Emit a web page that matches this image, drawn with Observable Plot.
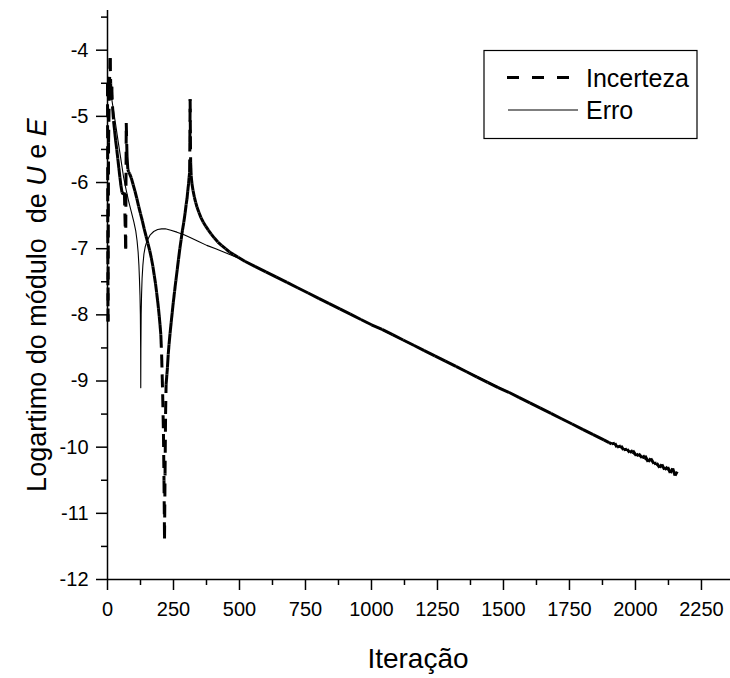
<!DOCTYPE html>
<html><head><meta charset="utf-8">
<script src="https://cdn.jsdelivr.net/npm/d3@7"></script>
<script src="https://cdn.jsdelivr.net/npm/@observablehq/plot@0.6"></script>
<style>body{margin:0;background:#fff} svg{display:block}</style>
</head><body><div id="chart"></div>
<script>
// ---- data ----
const xTicks = [0, 250, 500, 750, 1000, 1250, 1500, 1750, 2000, 2250];
const xMinorTicks = [125, 375, 625, 875, 1125, 1375, 1625, 1875, 2125];
const yTicks = [-12, -11, -10, -9, -8, -7, -6, -5, -4];
const yMinorTicks = [-11.5, -10.5, -9.5, -8.5, -7.5, -6.5, -5.5, -4.5, -3.5];
const seriesNames = ["Incerteza", "Erro"];
const xTitle = "Iteração";
const yTitleParts = [["Logartimo do módulo\u00a0 de ", false], ["U", true], [" e ", false], ["E", true]];

const incertezaIter = [0,2,4,7,10,12,14,16,19,23,27,31,35,39,43,47,51,55,60,64,69,71,74,77,80,84,90,97,104,111,118,125,132,139,146,153,160,166,172,177,182,186,190,193,196,199,202,205,207,209,212,214,216,218,220,222,225,227,230,233,237,241,245,249,254,259,264,269,274,279,284,289,294,298,301,304,307,309,311,312,313,314,315,317,320,324,329,334,339,346,354,363,372,382,393,405,418,432,447,462,478,495,520,560,600,640,680,720,760,800,840,880,920,960,1000,1040,1080,1120,1160,1200,1240,1280,1320,1360,1400,1440,1480,1520,1560,1600,1640,1680,1720,1760,1800,1840,1880,1900,1910,1922,1930,1945,1955,1968,1978,1990,2003,2012,2025,2036,2048,2058,2070,2080,2092,2100,2110,2122,2132,2141,2150,2158];
const incertezaVal = [-4.5,-8.1,-5.4,-4.6,-4.12,-4.5,-4.75,-4.55,-4.85,-5.07,-5.22,-5.37,-5.5,-5.64,-5.78,-5.92,-6.05,-6.15,-6.18,-6.15,-7.0,-5.1,-5.6,-5.8,-5.84,-5.87,-5.93,-6.03,-6.13,-6.24,-6.36,-6.47,-6.58,-6.7,-6.81,-6.92,-7.03,-7.14,-7.27,-7.4,-7.53,-7.66,-7.79,-7.9,-8.02,-8.15,-8.3,-8.6,-8.9,-9.2,-9.8,-10.5,-11.38,-10.4,-9.5,-9.05,-8.9,-8.8,-8.6,-8.45,-8.28,-8.12,-7.97,-7.82,-7.65,-7.48,-7.32,-7.16,-7.0,-6.86,-6.72,-6.6,-6.46,-6.33,-6.25,-6.13,-6.02,-5.93,-5.85,-5.4,-4.74,-5.3,-5.7,-5.9,-6.02,-6.12,-6.22,-6.3,-6.37,-6.45,-6.53,-6.6,-6.66,-6.72,-6.78,-6.84,-6.9,-6.95,-7.0,-7.05,-7.09,-7.13,-7.19,-7.27,-7.35,-7.43,-7.51,-7.59,-7.67,-7.75,-7.83,-7.91,-7.99,-8.07,-8.15,-8.22,-8.3,-8.38,-8.46,-8.54,-8.62,-8.7,-8.78,-8.86,-8.94,-9.02,-9.1,-9.17,-9.25,-9.33,-9.41,-9.49,-9.57,-9.65,-9.73,-9.81,-9.89,-9.93,-9.95,-9.94,-10.0,-9.98,-10.04,-10.03,-10.08,-10.05,-10.13,-10.1,-10.16,-10.13,-10.22,-10.17,-10.25,-10.24,-10.31,-10.26,-10.34,-10.3,-10.39,-10.32,-10.43,-10.37];

const erroIter = [1,4,10,20,30,40,50,61,70,80,90,100,107,112,116,119,121,123,124.5,125.5,126,126.5,127.5,129,131,134,138,143,150,162,175,190,205,219,240,263,290,313,345,376,410,440,470,500,520,1000,1500,1880,1900,1920,1940,1960,1980,2000,2020,2040,2060,2080,2100,2120,2140,2155];
const erroVal = [-4.45,-4.41,-4.58,-4.84,-5.1,-5.37,-5.63,-5.92,-6.1,-6.28,-6.44,-6.6,-6.73,-6.88,-7.05,-7.25,-7.45,-7.7,-8.0,-8.5,-9.1,-8.5,-8.0,-7.7,-7.45,-7.25,-7.08,-6.97,-6.88,-6.79,-6.74,-6.71,-6.7,-6.7,-6.72,-6.75,-6.79,-6.83,-6.89,-6.95,-7.0,-7.05,-7.1,-7.15,-7.19,-8.15,-9.13,-9.89,-9.93,-9.96,-10.0,-10.04,-10.07,-10.12,-10.14,-10.19,-10.21,-10.27,-10.29,-10.34,-10.36,-10.41];

// ---- build ----
const inc = incertezaIter.map((x, i) => ({x, y: incertezaVal[i]}));
const incSegs = d3.pairs(inc).map(([a, b]) => ({x1: a.x, y1: a.y, x2: b.x, y2: b.y}));
const err = erroIter.map((x, i) => ({x, y: erroVal[i]}));

const FONT = "'Liberation Sans', Arial, Helvetica, sans-serif";
const xMax = 2360, yMin = -12, yMax = -3.4;

const chart = Plot.plot({
  width: 730, height: 678,
  marginLeft: 107, marginRight: 0, marginTop: 10, marginBottom: 99,
  style: {fontFamily: FONT, fontSize: "20px", color: "black", background: "white", overflow: "visible"},
  x: {domain: [0, xMax]},
  y: {domain: [yMin, yMax]},
  marks: [
    Plot.line(err, {x: "x", y: "y", stroke: "black", strokeWidth: 1.1}),
    Plot.link(incSegs, {x1: "x1", y1: "y1", x2: "x2", y2: "y2", stroke: "black", strokeWidth: 3, strokeDasharray: "13,8", strokeLinecap: "butt"}),
    Plot.ruleY([yMin], {x1: 0, x2: xMax, stroke: "black", strokeWidth: 1.5}),
    Plot.ruleX([0], {y1: yMin, y2: yMax, stroke: "black", strokeWidth: 1.5}),
    Plot.axisX(xTicks, {tickSize: 11, tickPadding: 11, tickFormat: d => String(d), fontSize: 20, stroke: "black", strokeWidth: 1.5, label: null}),
    Plot.axisX(xMinorTicks, {tickSize: 6, tickFormat: () => "", stroke: "black", strokeWidth: 1.5, label: null}),
    Plot.axisY(yTicks, {tickSize: 11, tickPadding: 8, tickFormat: d => String(d), fontSize: 20, stroke: "black", strokeWidth: 1.5, label: null}),
    Plot.axisY(yMinorTicks, {tickSize: 6, tickFormat: () => "", stroke: "black", strokeWidth: 1.5, label: null})
  ]
});
document.getElementById("chart").appendChild(chart);

const svg = d3.select(chart);
// axis titles
svg.append("text")
  .attr("x", 418).attr("y", 668)
  .attr("text-anchor", "middle")
  .style("font-family", FONT).style("font-size", "28px").attr("fill", "black")
  .text(xTitle);
const yt = svg.append("text")
  .attr("transform", "translate(46,305) rotate(-90)")
  .attr("text-anchor", "middle")
  .style("font-family", FONT).style("font-size", "27px").attr("fill", "black");
yTitleParts.forEach(([t, it]) => yt.append("tspan").style("font-style", it ? "italic" : "normal").text(t));

// legend
const lg = svg.append("g").attr("text-anchor", "start");
lg.append("rect").attr("x", 484).attr("y", 50.5).attr("width", 213).attr("height", 88)
  .attr("fill", "white").attr("stroke", "black").attr("stroke-width", 1.2);
lg.append("line").attr("x1", 507).attr("x2", 569).attr("y1", 77.5).attr("y2", 77.5)
  .attr("stroke", "black").attr("stroke-width", 3).attr("stroke-dasharray", "12,13");
lg.append("line").attr("x1", 508).attr("x2", 578).attr("y1", 110).attr("y2", 110)
  .attr("stroke", "black").attr("stroke-width", 1.1);
seriesNames.forEach((n, i) => lg.append("text")
  .attr("x", 586).attr("y", [86.5, 119][i]).attr("text-anchor", "start")
  .style("font-family", FONT).style("font-size", "25px").attr("fill", "black").text(n));
</script>
</body></html>
